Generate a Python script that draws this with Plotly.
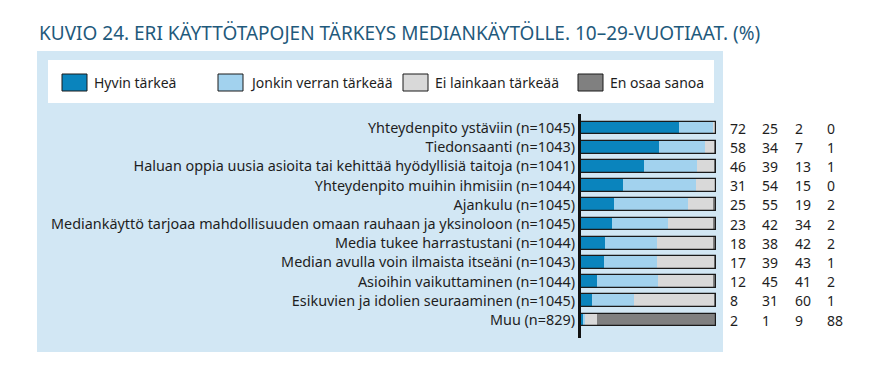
import plotly.graph_objects as go

# ---------------- data ----------------
categories = [
    "Yhteydenpito ystäviin (n=1045)",
    "Tiedonsaanti (n=1043)",
    "Haluan oppia uusia asioita tai kehittää hyödyllisiä taitoja (n=1041)",
    "Yhteydenpito muihin ihmisiin (n=1044)",
    "Ajankulu (n=1045)",
    "Mediankäyttö tarjoaa mahdollisuuden omaan rauhaan ja yksinoloon (n=1045)",
    "Media tukee harrastustani (n=1044)",
    "Median avulla voin ilmaista itseäni (n=1043)",
    "Asioihin vaikuttaminen (n=1044)",
    "Esikuvien ja idolien seuraaminen (n=1045)",
    "Muu (n=829)",
]
series_names = ["Hyvin tärkeä", "Jonkin verran tärkeää", "Ei lainkaan tärkeää", "En osaa sanoa"]
hyvin_tarkea = [72, 58, 46, 31, 25, 23, 18, 17, 12, 8, 2]
jonkin_verran = [25, 34, 39, 54, 55, 42, 38, 39, 45, 31, 1]
ei_lainkaan = [2, 7, 13, 15, 19, 34, 42, 43, 41, 60, 9]
en_osaa = [0, 1, 1, 0, 2, 2, 2, 1, 2, 1, 88]
title_text = "KUVIO 24. ERI KÄYTTÖTAPOJEN TÄRKEYS MEDIANKÄYTÖLLE. 10–29-VUOTIAAT. (%)"

series = [hyvin_tarkea, jonkin_verran, ei_lainkaan, en_osaa]
colors = ["#0a84bd", "#a2d2ee", "#d9d9d9", "#808080"]

# ---------------- geometry (pixel coords of the 879x380 reference) ----------------
OFF = 8                      # page body margin offset
W, H = 879 - OFF, 380 - OFF
PL, PR, PT, PB = 581, 716, 114, 340   # plot area in reference pixels
ROW0, ROWSTEP = 128, 19.2


def px(x):
    return (x - PL) / (PR - PL)


def py(y):
    return (PB - y) / (PB - PT)


FONT = "Noto Sans"
TXT = "#1e1e1e"

fig = go.Figure()

# normalise each row to 100 % so all bars end together
totals = [sum(s[i] for s in series) for i in range(len(categories))]
base = [0.0] * len(categories)
for name, vals, col in zip(series_names, series, colors):
    norm = [v * 100.0 / t for v, t in zip(vals, totals)]
    fig.add_trace(go.Bar(
        y=categories, x=norm, base=list(base), orientation="h", name=name,
        marker=dict(color=col, line=dict(width=0)), width=0.66,
        showlegend=False, hoverinfo="skip",
    ))
    base = [b + n for b, n in zip(base, norm)]

# outline around each whole bar
fig.add_trace(go.Bar(
    y=categories, x=base, base=[0] * len(categories), orientation="h",
    marker=dict(color="rgba(0,0,0,0)", line=dict(color="#1a1a1a", width=1.2)),
    width=0.66, showlegend=False, hoverinfo="skip",
))

shapes = []
# light blue panel
shapes.append(dict(type="rect", xref="paper", yref="paper", layer="below",
                   x0=px(37), x1=px(723), y0=py(352), y1=py(51),
                   fillcolor="#d2e7f4", line=dict(width=0)))
# legend box
shapes.append(dict(type="rect", xref="paper", yref="paper", layer="below",
                   x0=px(48), x1=px(714), y0=py(103), y1=py(60),
                   fillcolor="#ffffff", line=dict(width=0)))
# axis line
shapes.append(dict(type="line", xref="paper", yref="paper",
                   x0=px(579.5), x1=px(579.5), y0=py(338), y1=py(114),
                   line=dict(color="#111111", width=3)))

annotations = []
# legend
leg_sw = [62, 218, 403, 578]
for name, col, sx in zip(series_names, colors, leg_sw):
    shapes.append(dict(type="rect", xref="paper", yref="paper",
                       x0=px(sx), x1=px(sx + 25), y0=py(91), y1=py(74),
                       fillcolor=col, line=dict(color="#1a1a1a", width=1)))
    annotations.append(dict(xref="paper", yref="paper", x=px(sx + 30), y=py(82),
                            text=name, showarrow=False, xanchor="left", yanchor="middle",
                            font=dict(family=FONT, size=14, color=TXT)))

# value columns
col_x = [728, 760, 793, 825]
for vals, cx in zip(series, col_x):
    for cat, v in zip(categories, vals):
        annotations.append(dict(xref="paper", yref="y", x=px(cx), y=cat,
                                text=str(v), showarrow=False, xanchor="left", yanchor="middle",
                                font=dict(family=FONT, size=14, color=TXT)))

# title
annotations.append(dict(xref="paper", yref="paper", x=px(37), y=py(33),
                        text=title_text, showarrow=False, xanchor="left", yanchor="middle",
                        font=dict(family=FONT, size=19, color="#1f5a7c")))

fig.update_layout(
    width=W, height=H,
    margin=dict(l=PL - OFF, r=879 - PR, t=PT - OFF, b=380 - PB, pad=0),
    paper_bgcolor="white", plot_bgcolor="rgba(0,0,0,0)",
    barmode="overlay",
    bargap=0,
    shapes=shapes, annotations=annotations,
    xaxis=dict(range=[0, 100], showgrid=False, zeroline=False, showticklabels=False,
               showline=False, ticks="", fixedrange=True),
    yaxis=dict(type="category", categoryorder="array", categoryarray=categories,
               range=[(PB - ROW0) / ROWSTEP, (PT - ROW0) / ROWSTEP],
               showgrid=False, zeroline=False, showline=False, ticks="",
               ticklabelstandoff=5,
               tickfont=dict(family=FONT, size=14.4, color=TXT), automargin=False),
    showlegend=False,
)

fig.write_html("out.html")
